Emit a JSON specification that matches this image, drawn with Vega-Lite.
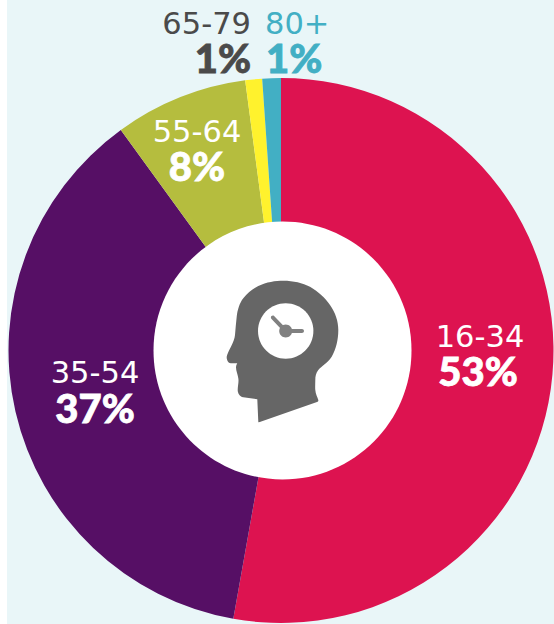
{
"$schema":"https://vega.github.io/schema/vega-lite/v6.json",
"width":547,"height":624,"autosize":{"type":"none"},"padding":{"left":7,"top":0,"right":0,"bottom":0},
"background":"#ffffff",
"config":{"view":{"fill":"#e9f6f8","stroke":null}},
"data":{"values":[
{"group":"16-34","share":52.8,"rank":1,"pct":"53%"},
{"group":"35-54","share":37.2,"rank":2,"pct":"37%"},
{"group":"55-64","share":7.9,"rank":3,"pct":"8%"},
{"group":"65-79","share":1.0,"rank":4,"pct":"1%"},
{"group":"80+","share":1.1,"rank":5,"pct":"1%"}
]},
"encoding":{
"x":{"datum":281,"type":"quantitative","scale":{"domain":[7,554]},"axis":null},
"y":{"datum":350.5,"type":"quantitative","scale":{"domain":[624,0]},"axis":null}
},
"layer":[
{"mark":{"type":"arc","radius":272.5,"radius2":100},
"encoding":{
"theta":{"field":"share","type":"quantitative","stack":true,"scale":{"domain":[0,100]}},
"order":{"field":"rank"},
"color":{"field":"group","type":"nominal","legend":null,"scale":{"domain":["16-34","35-54","55-64","65-79","80+"],"range":["#dd1350","#560f65","#b5bd3e","#fff22d","#42afc4"]}}
}},
{"data":{"values":[{"icon":"hole"}]},
"mark":{"type":"point","filled":true,"fill":"#ffffff","stroke":null,"opacity":1,"size":4,
"shape":"M-127.5,0a129,129 0 1,0 258,0a129,129 0 1,0 -258,0Z"}},
{"data":{"values":[{"icon":"head"}]},
"mark":{"type":"point","filled":true,"fill":"#666666","stroke":null,"opacity":1,"size":4,
"shape":"M-22.7,71.2L-23.7,48.8L-37.7,46.8C-41.5,46 -43.3,42.5 -43.3,39.5C-43.3,35.5 -42,31.5 -42.7,27.8C-43.3,23.5 -45,20.5 -45,16.8C-45,14.5 -43.7,12.8 -43.7,12.8L-50.3,12.8C-53,12.5 -54.5,9 -54.3,6.2C-53.5,1.5 -46.5,-8.5 -46,-15.5C-45.5,-21.5 -45,-27.5 -44.3,-33.8C-43.5,-40.5 -41.5,-47.5 -37.7,-52.2C-33.5,-57.5 -28.5,-61.5 -22.7,-64.5C-14.5,-68.5 -5.5,-69.8 2.3,-69.8C12.5,-69.8 21.5,-67.5 29,-63.8C37.5,-58.5 44.5,-52.5 49,-45.5C54.5,-37.5 57.3,-29.5 57.3,-20.5C57.3,-10.5 55,-1.5 50.7,6.2C46.5,12.5 40.5,15.5 37.3,19.5C35,22.5 34.3,25.5 34.3,29.5C34.3,33.5 34,36.5 34.3,39.5C34.5,43.5 36.5,46.5 37.3,49.5C37.5,50.5 37,51 36,51.5L-20.5,71.2C-21.5,71.7 -22.7,72 -22.7,71.2Z"}},
{"data":{"values":[{"icon":"face"}]},
"mark":{"type":"point","filled":true,"fill":"#ffffff","stroke":null,"opacity":1,"size":4,
"shape":"M-23,-19.5a27.7,27.7 0 1,0 55.4,0a27.7,27.7 0 1,0 -55.4,0Z"}},
{"data":{"values":[{"icon":"hands"}]},
"mark":{"type":"point","filled":true,"fill":"#808080","stroke":null,"opacity":1,"size":4,
"shape":"M4.7,-21.5L21,-21.5A2,2 0 0 1 21,-17.5L4.7,-17.5ZM3.3,-18.1L-9.7,-31.8A2,2 0 0 1 -6.9,-34.6L6.1,-20.9Z"}},
{"data":{"values":[{"icon":"hub"}]},
"mark":{"type":"point","filled":true,"fill":"#808080","stroke":null,"opacity":1,"size":4,
"shape":"M-1.8,-19.5a6.5,6.5 0 1,0 13,0a6.5,6.5 0 1,0 -13,0Z"}},
{"transform":[{"filter":"datum.group==='16-34'"}],"mark":{"type":"text","font":"DejaVu Sans","fontSize":30.5,"fill":"#ffffff","baseline":"alphabetic"},
"encoding":{"text":{"field":"group"},"x":{"datum":480,"type":"quantitative"},"y":{"datum":347,"type":"quantitative"}}},
{"transform":[{"filter":"datum.group==='16-34'"}],"mark":{"type":"text","font":"Lato","fontWeight":900,"fontSize":40,"fill":"#ffffff","stroke":"#ffffff","strokeWidth":0.8,"baseline":"alphabetic"},
"encoding":{"text":{"field":"pct"},"x":{"datum":478,"type":"quantitative"},"y":{"datum":386,"type":"quantitative"}}},
{"transform":[{"filter":"datum.group==='35-54'"}],"mark":{"type":"text","font":"DejaVu Sans","fontSize":30.5,"fill":"#ffffff","baseline":"alphabetic"},
"encoding":{"text":{"field":"group"},"x":{"datum":95,"type":"quantitative"},"y":{"datum":383,"type":"quantitative"}}},
{"transform":[{"filter":"datum.group==='35-54'"}],"mark":{"type":"text","font":"Lato","fontWeight":900,"fontSize":40,"fill":"#ffffff","stroke":"#ffffff","strokeWidth":0.8,"baseline":"alphabetic"},
"encoding":{"text":{"field":"pct"},"x":{"datum":95,"type":"quantitative"},"y":{"datum":423,"type":"quantitative"}}},
{"transform":[{"filter":"datum.group==='55-64'"}],"mark":{"type":"text","font":"DejaVu Sans","fontSize":30.5,"fill":"#ffffff","baseline":"alphabetic"},
"encoding":{"text":{"field":"group"},"x":{"datum":197,"type":"quantitative"},"y":{"datum":142,"type":"quantitative"}}},
{"transform":[{"filter":"datum.group==='55-64'"}],"mark":{"type":"text","font":"Lato","fontWeight":900,"fontSize":40,"fill":"#ffffff","stroke":"#ffffff","strokeWidth":0.8,"baseline":"alphabetic"},
"encoding":{"text":{"field":"pct"},"x":{"datum":197,"type":"quantitative"},"y":{"datum":181,"type":"quantitative"}}},
{"transform":[{"filter":"datum.group==='65-79'"}],"mark":{"type":"text","font":"DejaVu Sans","fontSize":30.5,"fill":"#4a4a4a","baseline":"alphabetic","align":"right"},
"encoding":{"text":{"field":"group"},"x":{"datum":251,"type":"quantitative"},"y":{"datum":34,"type":"quantitative"}}},
{"transform":[{"filter":"datum.group==='65-79'"}],"mark":{"type":"text","font":"Lato","fontWeight":900,"fontSize":40,"fill":"#4a4a4a","stroke":"#4a4a4a","strokeWidth":0.8,"baseline":"alphabetic","align":"right"},
"encoding":{"text":{"field":"pct"},"x":{"datum":251,"type":"quantitative"},"y":{"datum":73,"type":"quantitative"}}},
{"transform":[{"filter":"datum.group==='80+'"}],"mark":{"type":"text","font":"DejaVu Sans","fontSize":30.5,"fill":"#42afc4","baseline":"alphabetic","align":"left"},
"encoding":{"text":{"field":"group"},"x":{"datum":265,"type":"quantitative"},"y":{"datum":34,"type":"quantitative"}}},
{"transform":[{"filter":"datum.group==='80+'"}],"mark":{"type":"text","font":"Lato","fontWeight":900,"fontSize":40,"fill":"#42afc4","stroke":"#42afc4","strokeWidth":0.8,"baseline":"alphabetic","align":"left"},
"encoding":{"text":{"field":"pct"},"x":{"datum":266,"type":"quantitative"},"y":{"datum":73,"type":"quantitative"}}}
]
}
